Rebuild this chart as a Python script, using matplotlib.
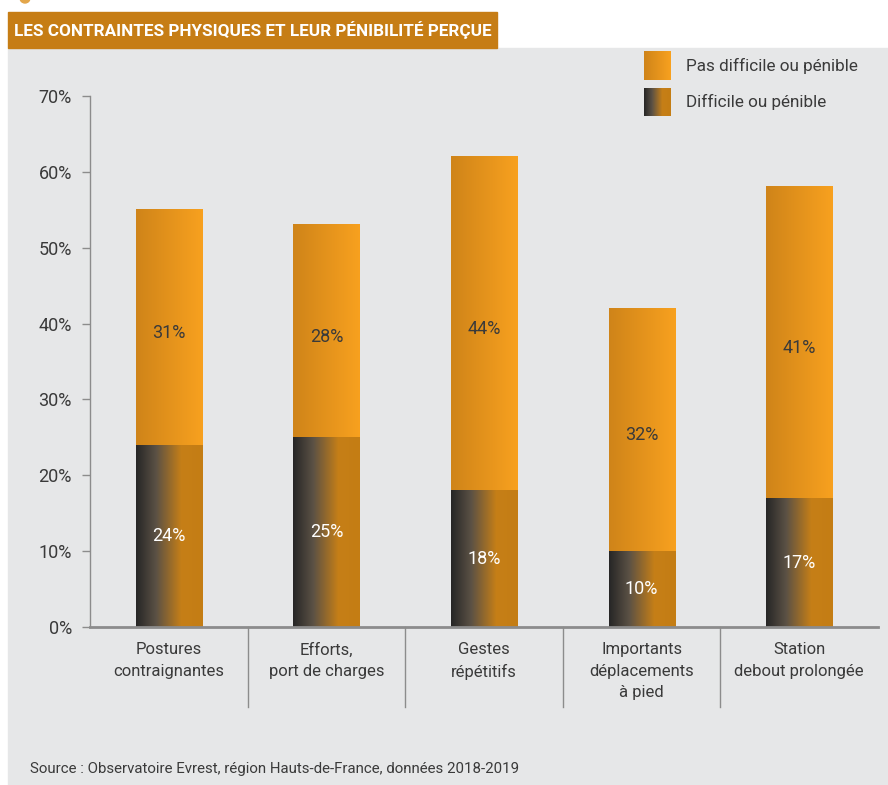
import numpy as np
import matplotlib.pyplot as plt
from matplotlib.colors import LinearSegmentedColormap
from matplotlib.patches import Rectangle, Ellipse

# donnees du graphique
categories = [
    "Postures\ncontraignantes",
    "Efforts,\nport de charges",
    "Gestes\nrépétitifs",
    "Importants\ndéplacements\nà pied",
    "Station\ndebout prolongée",
]
difficile = [24, 25, 18, 10, 17]
pas_difficile = [31, 28, 44, 32, 41]
yticks = [0, 10, 20, 30, 40, 50, 60, 70]
ytick_labels = ["0%", "10%", "20%", "30%", "40%", "50%", "60%", "70%"]
titre = "LES CONTRAINTES PHYSIQUES ET LEUR PÉNIBILITÉ PERÇUE"
legende = ["Pas difficile ou pénible", "Difficile ou pénible"]
source = "Source : Observatoire Evrest, région Hauts-de-France, données 2018-2019"

plt.rcParams["font.family"] = ["Roboto", "DejaVu Sans"]

# couleurs
fond = "#e6e7e8"
texte = "#3a3a3a"
orange_titre = "#c67d15"
cmap_bas = LinearSegmentedColormap.from_list(
    "bas", [(0, "#262626"), (0.3, "#5b5145"), (0.68, "#c67f17"), (1, "#c47d14")]
)
cmap_haut = LinearSegmentedColormap.from_list(
    "haut", [(0, "#cf8419"), (1, "#f8a11f")]
)
grad = np.linspace(0, 1, 256).reshape(1, -1)

W, H = 888, 785
fig = plt.figure(figsize=(W / 100, H / 100), dpi=100)
fig.patch.set_facecolor("white")

# petit pictogramme coupe en haut
fig.add_artist(Ellipse((25 / W, 1 + 2 / H), 10 / W, 10 / H, transform=fig.transFigure,
                       color="#e3a64a", zorder=1))
# panneau gris
fig.add_artist(Rectangle((8 / W, 0), 1, 1 - 48 / H, transform=fig.transFigure,
                         color=fond, zorder=0))
# bandeau titre
fig.add_artist(Rectangle((8 / W, 1 - 48 / H), 489 / W, 36 / H, transform=fig.transFigure,
                         color=orange_titre, zorder=1))
fig.text(14 / W, 1 - 30 / H, titre, color="white", fontsize=12.3, fontweight="bold",
         va="center", ha="left", zorder=2)

ax = fig.add_axes([90 / W, 1 - 627 / H, (878 - 90) / W, (627 - 96) / H])
ax.patch.set_visible(False)

x = np.arange(len(categories))
largeur = 0.42
bars_bas = ax.bar(x, difficile, largeur, color="none")
bars_haut = ax.bar(x, pas_difficile, largeur, bottom=difficile, color="none")

for r in bars_bas:
    ax.imshow(grad, cmap=cmap_bas, aspect="auto", zorder=2,
              extent=[r.get_x(), r.get_x() + r.get_width(), r.get_y(), r.get_y() + r.get_height()])
for r in bars_haut:
    ax.imshow(grad, cmap=cmap_haut, aspect="auto", zorder=2,
              extent=[r.get_x(), r.get_x() + r.get_width(), r.get_y(), r.get_y() + r.get_height()])

# etiquettes des valeurs
for i in range(len(categories)):
    ax.text(x[i], difficile[i] / 2, f"{difficile[i]}%", ha="center", va="center",
            color="white", fontsize=13, zorder=3)
    ax.annotate(f"{pas_difficile[i]}%", (x[i], difficile[i] + pas_difficile[i] / 2),
                xytext=(0, -4), textcoords="offset points",
                ha="center", va="center", color=texte, fontsize=13, zorder=3)

ax.set_xlim(-0.5, len(categories) - 0.5)
ax.set_ylim(0, 70)
ax.set_yticks(yticks, ytick_labels)
ax.set_xticks(x, categories)
ax.tick_params(axis="y", length=6, width=1, color="#8c8c8c", pad=7, labelsize=13,
               labelcolor=texte)
ax.tick_params(axis="x", length=0, pad=11, labelsize=12, labelcolor=texte)
for lab in ax.get_xticklabels():
    lab.set_linespacing(1.55)
    lab.set_va("top")

for s in ["top", "right"]:
    ax.spines[s].set_visible(False)
ax.spines["left"].set_color("#8c8c8c")
ax.spines["left"].set_linewidth(1)
ax.spines["bottom"].set_color("#8c8c8c")
ax.spines["bottom"].set_linewidth(2)

# separateurs sous l'axe
for xs in x[:-1] + 0.5:
    ax.plot([xs, xs], [0, -80 / 531], transform=ax.get_xaxis_transform(),
            color="#8c8c8c", lw=1, clip_on=False)

# legende
for j, (cm, y0, h) in enumerate([(cmap_haut, 80, 29), (cmap_bas, 116, 28)]):
    lax = fig.add_axes([644 / W, 1 - y0 / H, 27 / W, h / H])
    lax.imshow(grad, cmap=cm, aspect="auto")
    lax.axis("off")
fig.text(686 / W, 1 - 66 / H, legende[0], color=texte, fontsize=12.3, va="center")
fig.text(686 / W, 1 - 102 / H, legende[1], color=texte, fontsize=12.3, va="center")

fig.text(30 / W, 1 - 769 / H, source, color=texte, fontsize=10.8, va="center")

fig.savefig("out.png", dpi=100)
